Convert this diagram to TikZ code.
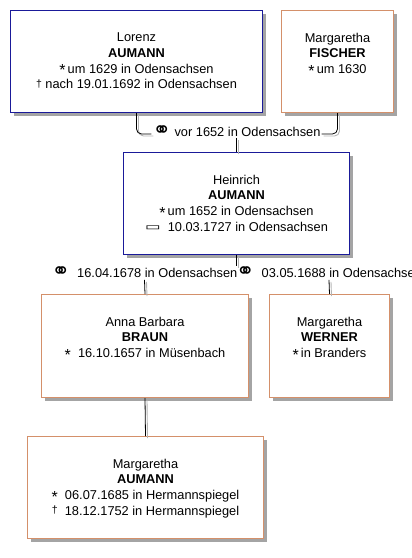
\documentclass[tikz,border=0pt]{standalone}
\usepackage{fontspec}
\usepackage{graphicx}
\setmainfont{Liberation Sans}
\newfontfamily\symfont{DejaVu Sans}
\definecolor{mnavy}{HTML}{1A1A99}
\definecolor{morange}{HTML}{D4906A}
\definecolor{mshadow}{HTML}{A4A4A4}
\definecolor{mline}{HTML}{B4B4B4}
\newcommand{\marr}{\raisebox{-1pt}{\symfont\fontsize{22}{22}\selectfont ⚭}}
\newcommand{\burial}{\raisebox{1pt}{\scalebox{1.1}[0.7]{\symfont\fontsize{15}{15}\selectfont ▭}}}
\newcommand{\birth}{\raisebox{-2.6pt}{\fontsize{16}{16}\selectfont *}}
\newcommand{\death}{\raisebox{1.2pt}{\fontsize{10.5}{10.5}\selectfont †}}
\tikzset{
  pbox/.style={draw, line width=1pt, fill=white, anchor=north west, inner sep=0pt},
  male/.style={pbox, draw=mnavy},
  female/.style={pbox, draw=morange},
  shadowbox/.style={fill=mshadow, draw=none},
  ptext/.style={font=\fontsize{12.8}{15.6}\selectfont, align=center, inner sep=0pt, anchor=north},
  mlabel/.style={font=\fontsize{12.8}{15.6}\selectfont, inner sep=1pt, anchor=base},
  conn/.style={draw=black, line width=0.8pt},
  connshade/.style={draw=mline, line width=0.9pt},
}
% #1 = draw style, #2 = coordinate shift
\newcommand{\drawconns}[2]{%
  \draw[#1, rounded corners=5pt] ([#2]lorenz.south) |- ([#2,yshift=2pt]m1.base west);
  \draw[#1, rounded corners=5pt] ([#2,yshift=2pt]m1.base east) -| ([#2]fischer.south);
  \draw[#1] ([#2]m1.south) -- ([#2]heinrich.north);
  \draw[#1] ([#2]heinrich.south) -- ([#2]j);
  \draw[#1] ([#2]m2.south) -- ([#2]braun.north);
  \draw[#1] ([#2]m3.south) -- ([#2]werner.north);
  \draw[#1] ([#2]braun.south) -- ([#2]marg.north);
}
\begin{document}
\begin{tikzpicture}[x=1pt,y=-1pt]
\useasboundingbox (0,0) rectangle (412,558);
% shadows (offset 4px right and down)
\path[shadowbox] (14,14) rectangle (266,116);
\path[shadowbox] (285,14) rectangle (397,116);
\path[shadowbox] (127,156) rectangle (353,258);
\path[shadowbox] (45,298) rectangle (252,401);
\path[shadowbox] (273,298) rectangle (393,401);
\path[shadowbox] (31,440) rectangle (267,542);
% boxes
\node[male, minimum width=252pt, minimum height=102pt] (lorenz) at (10,10) {};
\node[female, minimum width=112pt, minimum height=102pt] (fischer) at (281,10) {};
\node[male, minimum width=226pt, minimum height=102pt] (heinrich) at (123,152) {};
\node[female, minimum width=207pt, minimum height=103pt] (braun) at (41,294) {};
\node[female, minimum width=120pt, minimum height=103pt] (werner) at (269,294) {};
\node[female, minimum width=236pt, minimum height=102pt] (marg) at (27,436) {};
% texts
\node[ptext] (tlorenz) at ([yshift=-22.8pt]lorenz.north) {Lorenz\\\textbf{AUMANN}\\\birth\,um 1629 in Odensachsen\\\death\ nach 19.01.1692 in Odensachsen};
\node[ptext] (tfischer) at ([yshift=-22.8pt]fischer.north) {Margaretha\\\textbf{FISCHER}\\\birth\,um 1630};
\node[ptext] (theinrich) at ([yshift=-22.8pt]heinrich.north) {Heinrich\\\textbf{AUMANN}\\\birth\,um 1652 in Odensachsen\\\burial\ \ 10.03.1727 in Odensachsen};
\node[ptext] (tbraun) at ([yshift=-22.8pt]braun.north) {Anna Barbara\\\textbf{BRAUN}\\\birth\ \ 16.10.1657 in Müsenbach};
\node[ptext] (twerner) at ([yshift=-22.8pt]werner.north) {Margaretha\\\textbf{WERNER}\\\birth\,in Branders};
\node[ptext] (tmarg) at ([yshift=-22.8pt]marg.north) {Margaretha\\\textbf{AUMANN}\\\birth\ \ 06.07.1685 in Hermannspiegel\\\death\ \ 18.12.1752 in Hermannspiegel};
% marriage labels
\node[mlabel] (m1) at (236.5,136) {\marr\ vor 1652 in Odensachsen};
\node[mlabel] (m2) at (144.5,277.7) {\marr\ \ 16.04.1678 in Odensachsen};
\node[mlabel] (m3) at (329,277.7) {\marr\ \ 03.05.1688 in Odensachsen};
\coordinate (j) at (236.5,266);
% connectors: light shade line, then black line
\drawconns{connshade}{xshift=2pt,yshift=-2pt}
\drawconns{conn}{xshift=0pt}
\end{tikzpicture}
\end{document}
